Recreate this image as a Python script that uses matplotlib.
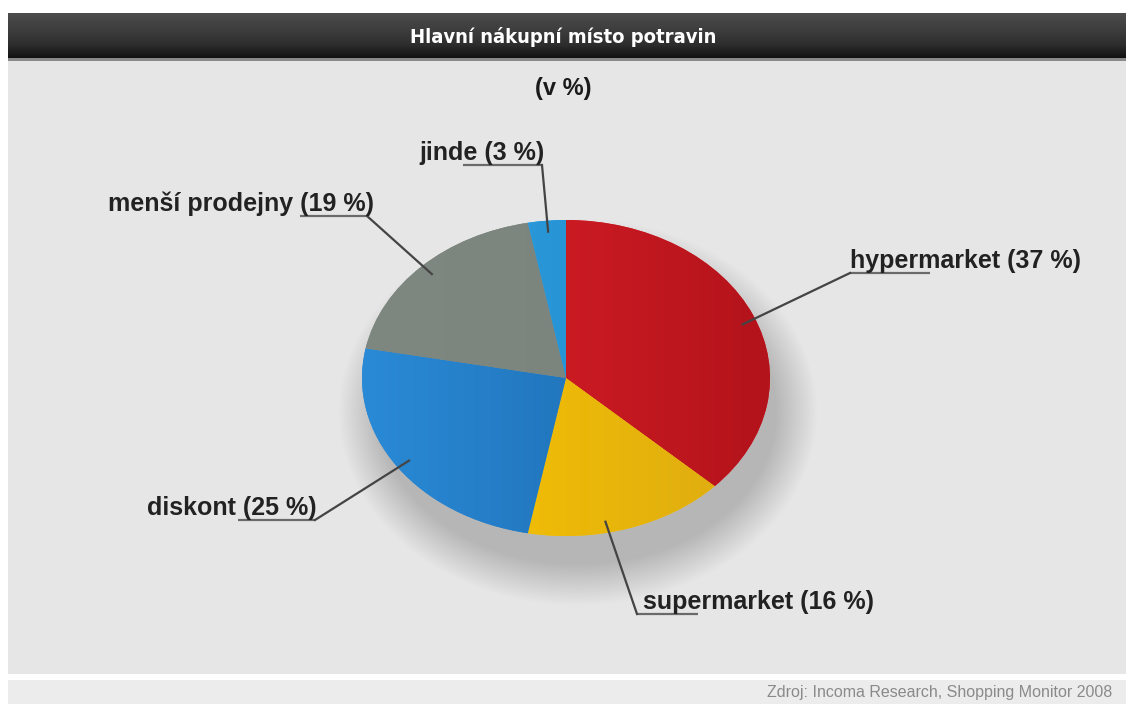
import numpy as np
import matplotlib
matplotlib.use("Agg")
import matplotlib.pyplot as plt
from matplotlib import font_manager
from matplotlib.patches import Rectangle, Ellipse
from matplotlib.colors import LinearSegmentedColormap

# data (v %)
categories = ["hypermarket", "supermarket", "diskont", "menší prodejny", "jinde"]
shares = [37, 16, 25, 19, 3]
title = "Hlavní nákupní místo potravin"
subtitle = "(v %)"
source = "Zdroj: Incoma Research, Shopping Monitor 2008"

# wedge colours: (left, right) for a soft horizontal gradient
wedge_cols = [("#e2222b", "#b3131b"),
              ("#fcc800", "#dcaa12"),
              ("#2a8ad6", "#1a64a6"),
              ("#7e8780", "#7a827c"),
              ("#2ea2e6", "#2186c4")]

# label layout: text x, text y (center), underline x0, x1, elbow side, anchor angle nudge
label_pos = {
    "hypermarket":    (850, 261, 850, 930, "left", -2),
    "supermarket":    (643, 602, 637, 698, "left", -6),
    "diskont":        (147, 508, 238, 315, "right", 0),
    "menší prodejny": (108, 204, 300, 367, "right", 0),
    "jinde":          (419, 153, 463, 542, "right", 0),
}

W, H = 1126, 704
cx, cy, rx, ry = 566, 378, 204, 158

names = {f.name for f in font_manager.fontManager.ttflist}
title_font = "Liberation Sans Narrow" if "Liberation Sans Narrow" in names else "DejaVu Sans"
lab_font = "Liberation Sans"

fig = plt.figure(figsize=(W / 100, H / 100), dpi=100)
fig.patch.set_facecolor("white")

# background and frame
bg = fig.add_axes([0, 0, 1, 1])
bg.set_xlim(0, W)
bg.set_ylim(H, 0)
bg.axis("off")
bg.add_patch(Rectangle((8, 60), W - 8, 614, color="#e6e6e6", lw=0))
bg.add_patch(Rectangle((8, 680), W - 8, 24, color="#ececec", lw=0))
bar = np.linspace(0, 1, 50).reshape(-1, 1)
bar_cmap = LinearSegmentedColormap.from_list("bar", ["#4c4c4c", "#3e3e3e", "#2e2e2e", "#0e0e0e"])
bg.imshow(bar, extent=(8, W, 60, 13), cmap=bar_cmap, aspect="auto", zorder=2)
bg.add_patch(Rectangle((8, 58), W - 8, 3, color="#8a8a8a", lw=0, zorder=3))
bg.set_xlim(0, W)
bg.set_ylim(H, 0)

# soft shadow under the pie
for i in range(24):
    k = i / 23
    bg.add_patch(Ellipse((cx + 12, cy + 34), 2 * rx - 10 + 80 * k, 2 * ry - 10 + 80 * k,
                         color="black", alpha=0.009, lw=0, zorder=1))

bg.text(W / 2, 37, title, color="white", fontsize=14.5, fontweight="bold",
        family=title_font, fontstretch="condensed", ha="center", va="center", zorder=5)
bg.text(W / 2, 89, subtitle, color="#1a1a1a", fontsize=17, fontweight="bold",
        family=lab_font, ha="center", va="center")
bg.text(1112, 692, source, color="#8a8a8a", fontsize=11.5, family=lab_font,
        ha="right", va="center")

# pie as an ellipse
pax = fig.add_axes([(cx - rx) / W, 1 - (cy + ry) / H, 2 * rx / W, 2 * ry / H])
wedges, _ = pax.pie(shares, colors=[c[0] for c in wedge_cols], startangle=90,
                    counterclock=False, radius=1, wedgeprops=dict(lw=0))
grad = np.linspace(0, 1, 200).reshape(1, -1)
for w, (c0, c1) in zip(wedges, wedge_cols):
    cm = LinearSegmentedColormap.from_list("g", [c0, c1])
    im = pax.imshow(grad, extent=(-1, 1, -1, 1), cmap=cm, aspect="auto", zorder=3)
    im.set_clip_path(w)
pax.set_aspect("auto")
pax.set_xlim(-1, 1)
pax.set_ylim(-1, 1)
pax.axis("off")

# labels and leader lines
ov = fig.add_axes([0, 0, 1, 1], facecolor="none")
ov.set_xlim(0, W)
ov.set_ylim(H, 0)
ov.axis("off")
cum = np.cumsum([0] + shares)
total = float(sum(shares))
for i, name in enumerate(categories):
    tx, ty, u0, u1, side, nudge = label_pos[name]
    mid = 90 - (cum[i] + shares[i] / 2) / total * 360 + nudge
    ax_ = cx + rx * 0.93 * np.cos(np.radians(mid))
    ay_ = cy - ry * 0.93 * np.sin(np.radians(mid))
    ey = ty + 12
    ex = u0 if side == "left" else u1
    ov.plot([u0, u1], [ey, ey], color="#6a6a6a", lw=1.6, solid_capstyle="butt")
    ov.plot([ex, ax_], [ey, ay_], color="#444444", lw=1.6)
    ov.text(tx, ty, "%s (%d %%)" % (name, shares[i]), color="#222222", fontsize=18,
            fontweight="bold", family=lab_font, ha="left", va="center")

fig.savefig("out.png", dpi=100, facecolor="white")
